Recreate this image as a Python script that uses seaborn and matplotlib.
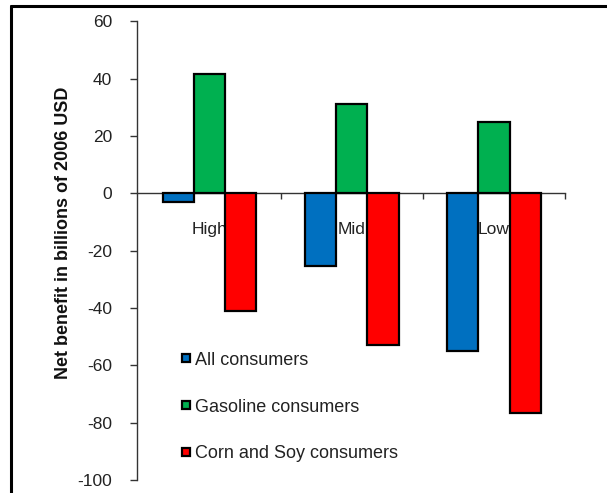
import matplotlib
matplotlib.use("Agg")
import matplotlib.pyplot as plt
from matplotlib.lines import Line2D
import seaborn as sns
import pandas as pd

# Scenario categories and net benefits (billions of 2006 USD)
scenarios = ["High", "Mid", "Low"]
groups = ["All consumers", "Gasoline consumers", "Corn and Soy consumers"]
all_consumers = [-3, -25.5, -55]
gasoline_consumers = [41.5, 31, 25]
corn_soy_consumers = [-41, -53, -76.5]
y_ticks = [-100, -80, -60, -40, -20, 0, 20, 40, 60]

colors = ["#0070C0", "#00B050", "#FF0000"]

rows = []
for g, vals in zip(groups, [all_consumers, gasoline_consumers, corn_soy_consumers]):
    for s, v in zip(scenarios, vals):
        rows.append({"scenario": s, "group": g, "value": v})
df = pd.DataFrame(rows)

sns.set_theme(style="white")
plt.rcParams["font.family"] = ["Liberation Sans", "DejaVu Sans"]

W, H = 607, 493
fig = plt.figure(figsize=(W / 100, H / 100), dpi=100)
ax = fig.add_axes([137 / W, (H - 480) / H, (565 - 137) / W, (480 - 21.25) / H])

sns.barplot(data=df, x="scenario", y="value", hue="group", order=scenarios,
            hue_order=groups, palette=colors, width=0.66, saturation=1,
            edgecolor="black", linewidth=1.6, legend=False, ax=ax)
for p in ax.patches:
    p.set_zorder(3)

ax.set_xlim(-0.51, 2.5)
ax.set_ylim(-100, 60)
ax.set_yticks(y_ticks)
ax.set_yticklabels([str(t) for t in y_ticks], fontsize=12.5, color="#222222")
ax.set_xticks([0.5, 1.5, 2.5])
ax.set_xticklabels([])
ax.tick_params(axis="y", direction="out", length=5, width=1, color="#333333",
               left=True, pad=13)
ax.tick_params(axis="x", direction="out", length=4, width=1, color="#333333",
               bottom=True)

for side in ["top", "right"]:
    ax.spines[side].set_visible(False)
ax.spines["bottom"].set_position(("data", 0))
ax.spines["bottom"].set_color("#333333")
ax.spines["bottom"].set_linewidth(1)
ax.spines["bottom"].set_zorder(2)
ax.spines["left"].set_color("#333333")
ax.spines["left"].set_linewidth(1)

ax.set_xlabel("")
ax.set_ylabel("Net benefit in billions of 2006 USD", fontsize=13,
              fontweight="bold", color="#111111")
ax.yaxis.set_label_coords(-0.152, 0.5395)

# Scenario names sit just under the zero line, behind the bars
for i, s in enumerate(scenarios):
    ax.text(i, -12.6, s, ha="center", va="center", fontsize=12.5,
            color="#222222", zorder=1)

handles = [Line2D([], [], marker="s", linestyle="none", markersize=5.6,
                  markerfacecolor=c, markeredgecolor="black", markeredgewidth=1.6)
           for c in colors]
leg = ax.legend(handles=handles, labels=groups, loc="center left",
                bbox_to_anchor=(44 / 428, 1 - (407 - 21.25) / 458.75),
                frameon=False, fontsize=13, handlelength=0.55,
                handletextpad=0.2, labelspacing=1.65, borderaxespad=0,
                borderpad=0)
for t in leg.get_texts():
    t.set_color("#222222")

# Outer frame around the chart area
fig.add_artist(Line2D([11 / W, 1], [1 - 6 / H, 1 - 6 / H], color="black",
                      linewidth=2.2, transform=fig.transFigure))
fig.add_artist(Line2D([11 / W, 11 / W], [0, 1 - 6 / H], color="black",
                      linewidth=2.2, transform=fig.transFigure))

fig.savefig("out.png", dpi=100)
